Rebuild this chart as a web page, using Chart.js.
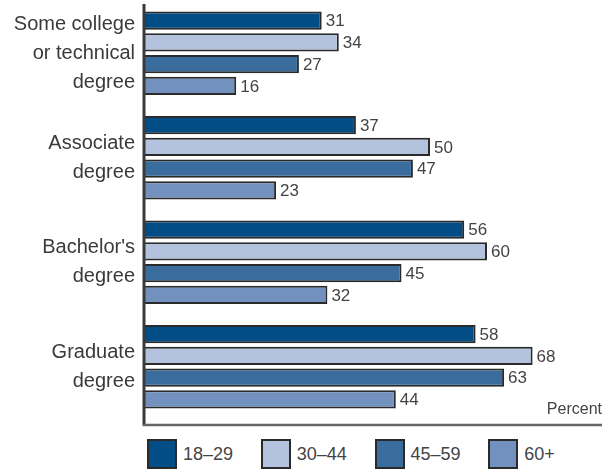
<!DOCTYPE html>
<html>
<head>
<meta charset="utf-8">
<script src="https://cdn.jsdelivr.net/npm/chart.js@4/dist/chart.umd.min.js"></script>
<style>
  body { margin: 0; background: #fff; font-family: "Liberation Sans", Arial, sans-serif; }
  #wrap { position: relative; width: 602px; height: 432px; }
  #legend { display: flex; padding-left: 147px; height: 38px; align-items: center; margin-top: 3px; }
  .item { display: flex; align-items: center; width: 127px; font-size: 18px; color: #444; }
  .box { width: 26px; height: 26px; border: 2px solid #2a2a2a; margin-right: 6px; box-sizing: content-box; }
</style>
</head>
<body>
<div id="wrap"><canvas id="chart"></canvas></div>
<div id="legend"></div>
<script>
const categories = [
  ["Some college", "or technical", "degree"],
  ["Associate", "degree"],
  ["Bachelor's", "degree"],
  ["Graduate", "degree"],
];
const ageGroups = ["18–29", "30–44", "45–59", "60+"];
const colors = ["#024d86", "#b3c3de", "#3a6c9e", "#7391bf"];
const age18to29 = [31, 37, 56, 58];
const age30to44 = [34, 50, 60, 68];
const age45to59 = [27, 47, 45, 63];
const age60plus = [16, 23, 32, 44];
const seriesValues = [age18to29, age30to44, age45to59, age60plus];

const valueLabels = {
  id: "valueLabels",
  afterDatasetsDraw(chart) {
    const { ctx } = chart;
    ctx.save();
    ctx.font = "17px 'Liberation Sans', Arial, sans-serif";
    ctx.fillStyle = "#444";
    ctx.textBaseline = "middle";
    ctx.textAlign = "left";
    chart.data.datasets.forEach((ds, i) => {
      chart.getDatasetMeta(i).data.forEach((bar, j) => {
        ctx.fillText(String(ds.data[j]), bar.x + 4, bar.y + 1);
      });
    });
    ctx.restore();
  },
};

const axisLines = {
  id: "axisLines",
  afterDraw(chart) {
    const { ctx, chartArea } = chart;
    ctx.save();
    ctx.strokeStyle = "#3a3a3a";
    ctx.lineWidth = 3;
    ctx.beginPath();
    ctx.moveTo(chartArea.left - 1, chartArea.top + 3);
    ctx.lineTo(chartArea.left - 1, chartArea.bottom + 7);
    ctx.stroke();
    ctx.strokeStyle = "#666";
    ctx.lineWidth = 2.5;
    ctx.beginPath();
    ctx.moveTo(chartArea.left - 2, chartArea.bottom + 6);
    ctx.lineTo(chartArea.right + 1, chartArea.bottom + 6);
    ctx.stroke();
    ctx.font = "16px 'Liberation Sans', Arial, sans-serif";
    ctx.fillStyle = "#444";
    ctx.textAlign = "right";
    ctx.textBaseline = "middle";
    ctx.fillText("Percent", chart.width, chartArea.bottom - 9);
    ctx.restore();
  },
};

new Chart(document.querySelector("#chart"), {
  type: "bar",
  data: {
    labels: categories,
    datasets: seriesValues.map((values, i) => ({
      label: ageGroups[i],
      data: values,
      backgroundColor: colors[i],
      borderColor: "#2a2a2a",
      borderWidth: 2,
      categoryPercentage: 0.833,
      barPercentage: 0.83,
    })),
  },
  options: {
    indexAxis: "y",
    responsive: true,
    maintainAspectRatio: false,
    animation: false,
    layout: { padding: { top: 1, right: 1, bottom: 13, left: 0 } },
    plugins: { legend: { display: false }, tooltip: { enabled: false } },
    scales: {
      x: { display: false, min: 0, max: 80 },
      y: {
        grid: { display: false, drawTicks: false },
        border: { display: false },
        ticks: {
          padding: 10,
          color: "#3a3a3a",
          font: { family: "'Liberation Sans', Arial, sans-serif", size: 20, lineHeight: 1.45 },
        },
        afterFit(scale) {
          scale.width = 145;
          scale.paddingTop = 0;
          scale.paddingBottom = 0;
        },
      },
    },
  },
  plugins: [valueLabels, axisLines],
});

const legend = document.querySelector("#legend");
ageGroups.forEach((name, i) => {
  const item = document.createElement("div");
  item.className = "item";
  item.innerHTML = `<span class="box" style="background:${colors[i]}"></span><span>${name}</span>`;
  legend.appendChild(item);
});
</script>
</body>
</html>
